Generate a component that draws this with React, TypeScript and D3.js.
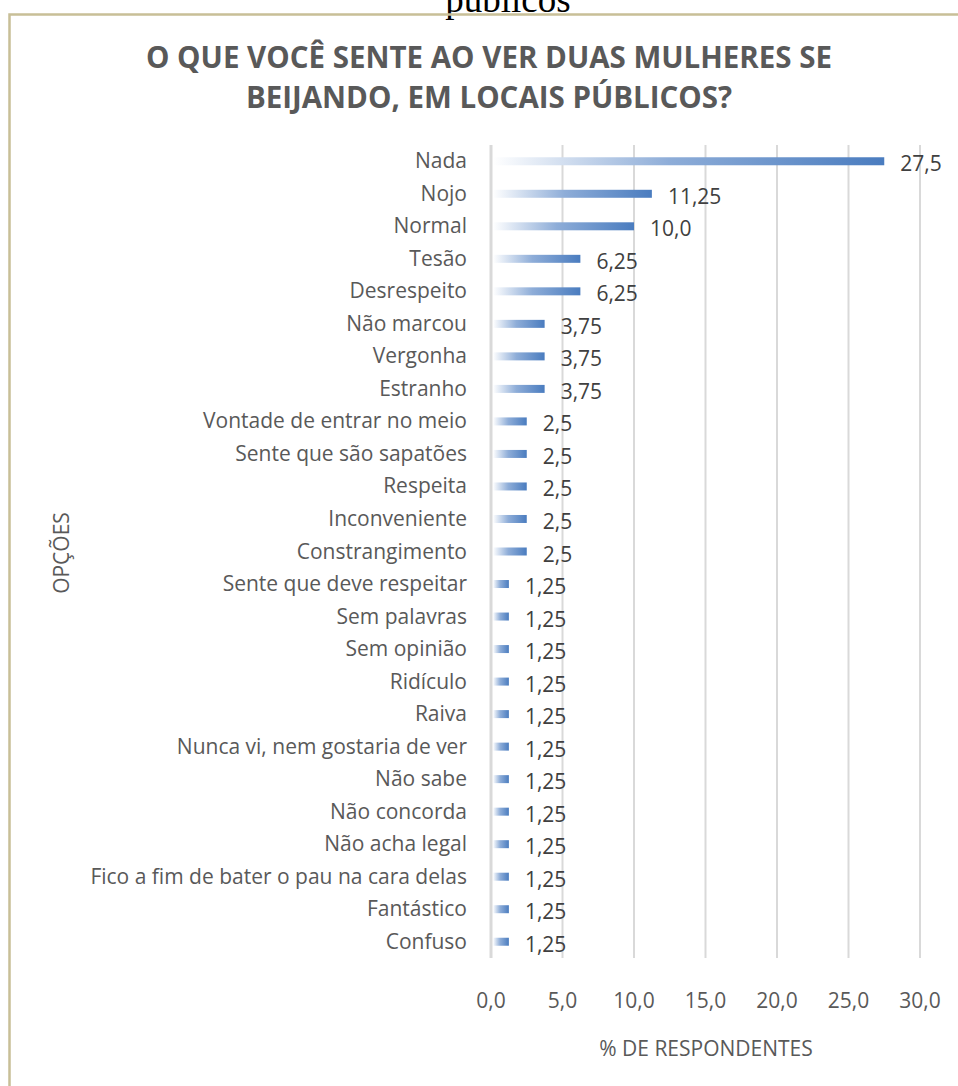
import React from "react";
import * as d3 from "d3";

const categories = [
  "Nada",
  "Nojo",
  "Normal",
  "Tesão",
  "Desrespeito",
  "Não marcou",
  "Vergonha",
  "Estranho",
  "Vontade de entrar no meio",
  "Sente que são sapatões",
  "Respeita",
  "Inconveniente",
  "Constrangimento",
  "Sente que deve respeitar",
  "Sem palavras",
  "Sem opinião",
  "Ridículo",
  "Raiva",
  "Nunca vi, nem gostaria de ver",
  "Não sabe",
  "Não concorda",
  "Não acha legal",
  "Fico a fim de bater o pau na cara delas",
  "Fantástico",
  "Confuso",
];
const values = [
  27.5, 11.25, 10.0, 6.25, 6.25, 3.75, 3.75, 3.75, 2.5, 2.5, 2.5, 2.5, 2.5,
  1.25, 1.25, 1.25, 1.25, 1.25, 1.25, 1.25, 1.25, 1.25, 1.25, 1.25, 1.25,
];
const valueLabels = [
  "27,5", "11,25", "10,0", "6,25", "6,25", "3,75", "3,75", "3,75", "2,5", "2,5",
  "2,5", "2,5", "2,5", "1,25", "1,25", "1,25", "1,25", "1,25", "1,25", "1,25",
  "1,25", "1,25", "1,25", "1,25", "1,25",
];
const xTicks = [0, 5, 10, 15, 20, 25, 30];

const W = 958;
const H = 1086;
const FONT = "'Open Sans', sans-serif";

const App = () => {
  const x = d3.scaleLinear().domain([0, 30]).range([491, 920]);
  const y = d3.scaleBand().domain(categories).range([145, 958]);
  const barH = 8;
  const fmt = (v: number) => v.toFixed(1).replace(".", ",");

  return (
    <div style={{ position: "absolute", left: 0, top: 0 }}>
      <svg width={W} height={H} style={{ display: "block", background: "#fff" }}>
        <defs>
          <linearGradient id="barGrad" x1="0" x2="1" y1="0" y2="0">
            <stop offset="0" stopColor="#ffffff" />
            <stop offset="0.45" stopColor="#8eadd8" />
            <stop offset="1" stopColor="#4a7cbf" />
          </linearGradient>
        </defs>

        {/* texto cortado do documento acima */}
        <text x={508} y={12} textAnchor="middle" fontFamily="'Liberation Serif', serif" fontSize={37} fill="#000">
          públicos
        </text>

        {/* moldura */}
        <path d={`M9.5,${H + 5} V14.5 H${W + 5}`} fill="none" stroke="#c8bf97" strokeWidth={2.5} />

        {/* título */}
        <text textAnchor="middle" fontFamily={FONT} fontWeight={700} fontSize={29.5} fill="#595959">
          <tspan x={489} y={68}>O QUE VOCÊ SENTE AO VER DUAS MULHERES SE</tspan>
          <tspan x={489} y={108}>BEIJANDO, EM LOCAIS PÚBLICOS?</tspan>
        </text>

        {/* grade */}
        {xTicks.map((t) => (
          <line
            key={t}
            x1={x(t)}
            x2={x(t)}
            y1={145}
            y2={958}
            stroke="#d9d9d9"
            strokeWidth={t === 0 ? 3 : 2}
          />
        ))}

        {/* barras */}
        {categories.map((c, i) => {
          const cy = (y(c) as number) + y.bandwidth() / 2;
          return (
            <g key={c}>
              <rect
                x={x(0) + 2}
                y={cy - barH / 2}
                width={x(values[i]) - x(0) - 2}
                height={barH}
                fill="url(#barGrad)"
              />
              <text
                x={x(values[i]) + 16}
                y={cy + 10}
                fontFamily={FONT}
                fontSize={21}
                fill="#404040"
              >
                {valueLabels[i]}
              </text>
              <text
                x={467}
                y={cy + 7}
                textAnchor="end"
                fontFamily={FONT}
                fontSize={21}
                fill="#595959"
              >
                {c}
              </text>
            </g>
          );
        })}

        {/* eixo x */}
        {xTicks.map((t) => (
          <text
            key={"t" + t}
            x={x(t)}
            y={1008}
            textAnchor="middle"
            fontFamily={FONT}
            fontSize={21}
            fill="#595959"
          >
            {fmt(t)}
          </text>
        ))}
        <text x={706} y={1056} textAnchor="middle" fontFamily={FONT} fontSize={21} fill="#595959">
          % DE RESPONDENTES
        </text>
        <text
          transform="translate(69,553) rotate(-90)"
          textAnchor="middle"
          fontFamily={FONT}
          fontSize={21}
          fill="#595959"
        >
          OPÇÕES
        </text>
      </svg>
    </div>
  );
};

export default App;
